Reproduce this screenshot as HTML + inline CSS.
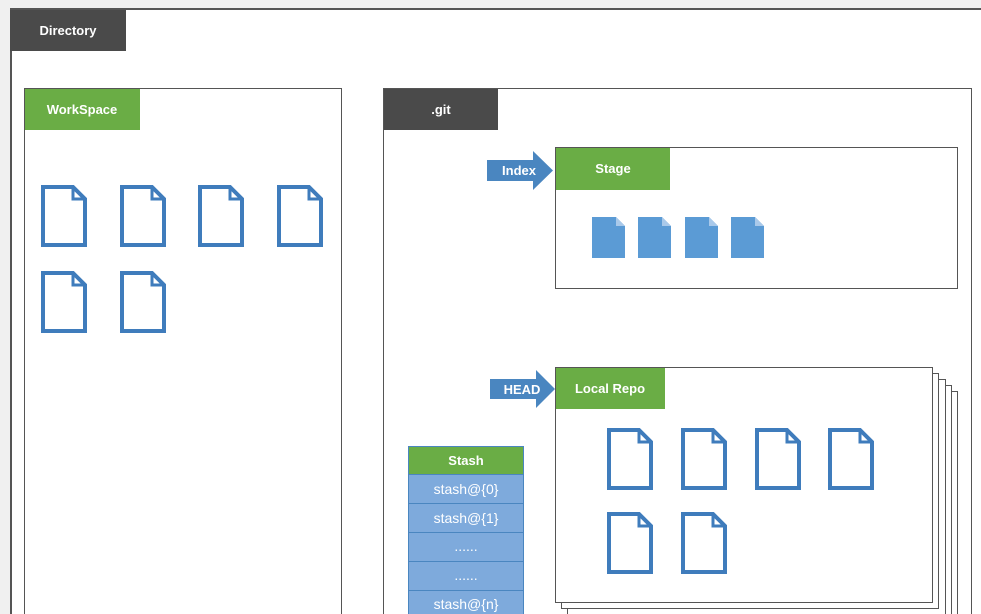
<!DOCTYPE html>
<html><head><meta charset="utf-8"><style>
html,body{margin:0;padding:0;background:#f0f0f0;}
svg{display:block;font-family:"Liberation Sans",sans-serif;}
</style></head><body>
<svg width="981" height="614" viewBox="0 0 981 614" xmlns="http://www.w3.org/2000/svg">
<defs>
<g id="fo"><path d="M2,2 H32 L44,14 V60 H2 Z" fill="#fff" stroke="#3f7cbc" stroke-width="4"/><path d="M32,2 V14 H44" fill="none" stroke="#3f7cbc" stroke-width="3"/></g>
<g id="ff"><path d="M0,0 H24 L33,9 V41 H0 Z" fill="#5b9bd5"/><path d="M24,0 V9 H33 Z" fill="#a9c9ea"/></g>
</defs>
<rect x="0" y="0" width="981" height="614" fill="#f0f0f0"/>
<rect x="11" y="9" width="990" height="620" fill="#fff" stroke="#555" stroke-width="2"/>
<rect x="10" y="10" width="116" height="41" fill="#4a4a4a"/>
<text x="68" y="35" fill="#fff" font-size="13" font-weight="bold" text-anchor="middle">Directory</text>
<rect x="24.5" y="88.5" width="317" height="540" fill="#fff" stroke="#555"/>
<rect x="25" y="89" width="115" height="41" fill="#6aad45"/>
<text x="82" y="114" fill="#fff" font-size="13" font-weight="bold" text-anchor="middle">WorkSpace</text>
<use href="#fo" x="41" y="185"/><use href="#fo" x="120" y="185"/><use href="#fo" x="198" y="185"/><use href="#fo" x="277" y="185"/>
<use href="#fo" x="41" y="271"/><use href="#fo" x="120" y="271"/>
<rect x="383.5" y="88.5" width="588" height="540" fill="#fff" stroke="#555"/>
<rect x="384" y="89" width="114" height="41" fill="#4a4a4a"/>
<text x="441" y="114" fill="#fff" font-size="13" font-weight="bold" text-anchor="middle">.git</text>
<rect x="555.5" y="147.5" width="402" height="141" fill="#fff" stroke="#555"/>
<rect x="556" y="148" width="114" height="42" fill="#6aad45"/>
<text x="613" y="173" fill="#fff" font-size="13" font-weight="bold" text-anchor="middle">Stage</text>
<path d="M487,160 H533 V151 L553,170.5 L533,190 V181 H487 Z" fill="#4a86c0"/>
<text x="519" y="175" fill="#fff" font-size="13" font-weight="bold" text-anchor="middle">Index</text>
<use href="#ff" x="592" y="217"/><use href="#ff" x="638" y="217"/><use href="#ff" x="685" y="217"/><use href="#ff" x="731" y="217"/>
<rect x="579.5" y="391.5" width="378" height="235" fill="#fff" stroke="#555"/>
<rect x="573.5" y="385.5" width="378" height="235" fill="#fff" stroke="#555"/>
<rect x="567.5" y="379.5" width="378" height="235" fill="#fff" stroke="#555"/>
<rect x="561.5" y="373.5" width="377" height="235" fill="#fff" stroke="#555"/>
<rect x="555.5" y="367.5" width="377" height="235" fill="#fff" stroke="#555"/>
<rect x="556" y="368" width="109" height="41" fill="#6aad45"/>
<text x="610" y="393" fill="#fff" font-size="13" font-weight="bold" text-anchor="middle">Local Repo</text>
<path d="M490,379 H536 V370 L555,389 L536,408 V399 H490 Z" fill="#4a86c0"/>
<text x="522" y="394" fill="#fff" font-size="13" font-weight="bold" text-anchor="middle">HEAD</text>
<use href="#fo" x="607" y="428"/><use href="#fo" x="681" y="428"/><use href="#fo" x="755" y="428"/><use href="#fo" x="828" y="428"/>
<use href="#fo" x="607" y="512"/><use href="#fo" x="681" y="512"/>
<rect x="408.5" y="446.5" width="115" height="28" fill="#6aad45" stroke="#4a86c0"/>
<text x="466" y="465" fill="#fff" font-size="13" font-weight="bold" text-anchor="middle">Stash</text>
<g fill="#7eaadc" stroke="#4a86c0">
<rect x="408.5" y="474.5" width="115" height="29"/>
<rect x="408.5" y="503.5" width="115" height="29"/>
<rect x="408.5" y="532.5" width="115" height="29"/>
<rect x="408.5" y="561.5" width="115" height="29"/>
<rect x="408.5" y="590.5" width="115" height="29"/>
</g>
<g fill="#fff" font-size="14" text-anchor="middle">
<text x="466" y="494">stash@{0}</text>
<text x="466" y="523">stash@{1}</text>
<text x="466" y="551">......</text>
<text x="466" y="580">......</text>
<text x="466" y="609">stash@{n}</text>
</g>
</svg>
</body></html>
